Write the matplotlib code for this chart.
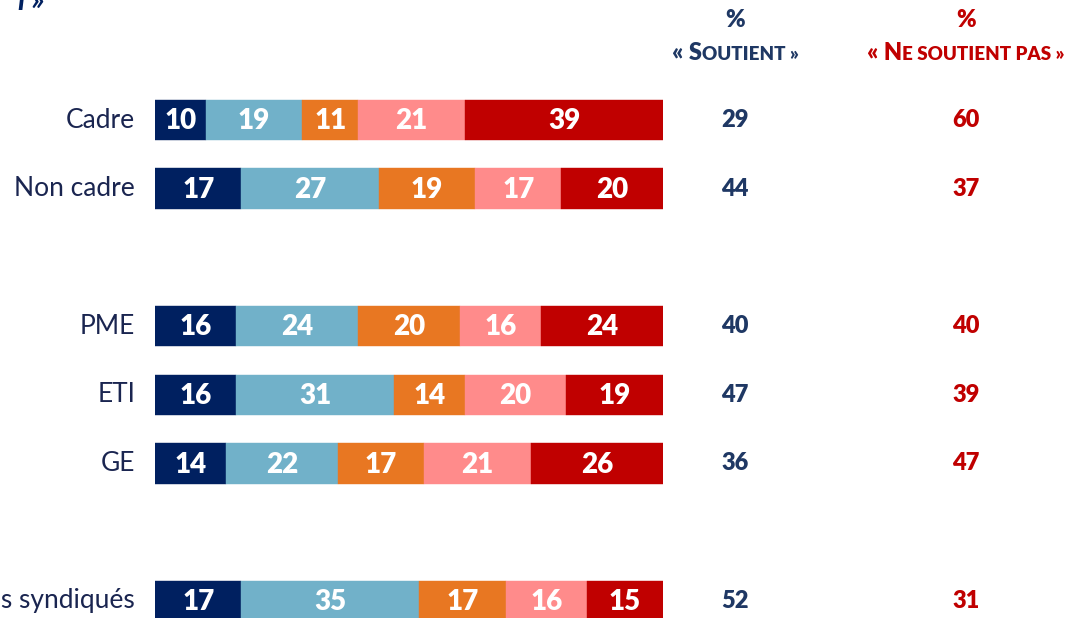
import matplotlib
matplotlib.use('Agg')
from matplotlib import pyplot as plt
import numpy as np

plt.rcParams['font.family'] = ['Lato', 'DejaVu Sans']

# survey answers per group, in % (sum to 100 for each row)
labels = ['Cadre', 'Non cadre', 'PME', 'ETI', 'GE', 'Salariés syndiqués']
rows = [0, 1, 3, 4, 5, 7]
tout_a_fait = [10, 17, 16, 16, 14, 17]
plutot_oui = [19, 27, 24, 31, 22, 35]
neutre = [11, 19, 20, 14, 17, 17]
plutot_non = [21, 17, 16, 20, 21, 16]
pas_du_tout = [39, 20, 24, 19, 26, 15]
soutient = [29, 44, 40, 47, 36, 52]
ne_soutient_pas = [60, 37, 40, 39, 47, 31]

navy = '#002060'
colors = ['#002060', '#71B1C9', '#E87722', '#FF8B8B', '#C00000']
txt_blue = '#1F3864'
txt_red = '#C00000'

W, H = 1071, 618
fig = plt.figure(figsize=(W / 100, H / 100), dpi=100)
ax = fig.add_axes([155 / W, 0, 508 / W, 1])

px_row = 68.7
ax.set_xlim(0, 100)
ax.set_ylim((H - 120) / px_row, -120 / px_row)
ax.axis('off')

series = [tout_a_fait, plutot_oui, neutre, plutot_non, pas_du_tout]
left = np.zeros(len(rows))
for vals, c in zip(series, colors):
    vals = np.array(vals)
    ax.barh(rows, vals, left=left, height=0.59, color=c, edgecolor=c, linewidth=0.3)
    for y, l, v in zip(rows, left, vals):
        ax.text(l + v / 2, y + 0.02, str(v), ha='center', va='center',
                color='white', fontsize=20, fontweight='heavy')
    left += vals

for y, lab, s, n in zip(rows, labels, soutient, ne_soutient_pas):
    ax.text(-3.9, y, lab, ha='right', va='center', fontsize=19, color='#1A2550', clip_on=False)
    ax.text(114.2, y, str(s), ha='center', va='center', fontsize=17,
            fontweight='heavy', color=txt_blue, clip_on=False)
    ax.text(159.6, y, str(n), ha='center', va='center', fontsize=17,
            fontweight='heavy', color=txt_red, clip_on=False)

# column headers
fig.text(735 / W, 1 - 20 / H, '%', ha='center', va='center', fontsize=17,
         fontweight='heavy', color=txt_blue)
fig.text(966 / W, 1 - 20 / H, '%', ha='center', va='center', fontsize=17,
         fontweight='heavy', color=txt_red)


def small_caps(xc, yb, parts, color):
    texts = [fig.text(0, 0, s, fontsize=sz, fontweight='heavy', color=color,
                      va='baseline', ha='left') for s, sz in parts]
    renderer = fig.canvas.get_renderer()
    widths = [t.get_window_extent(renderer).width for t in texts]
    x = xc - sum(widths) / 2
    for t, w in zip(texts, widths):
        t.set_position((x / W, 1 - yb / H))
        x += w


small_caps(735, 60, [('« S', 17), ('OUTIENT »', 13.5)], txt_blue)
small_caps(966, 60, [('« N', 17), ('E SOUTIENT PAS »', 13.5)], txt_red)

# end of the title, cut by the top edge
fig.text(45 / W, 1 - 1 / H, 'l »', ha='right', va='center', fontsize=22,
         fontweight='bold', fontstyle='italic', color=navy)

fig.savefig('out.png', dpi=100)
